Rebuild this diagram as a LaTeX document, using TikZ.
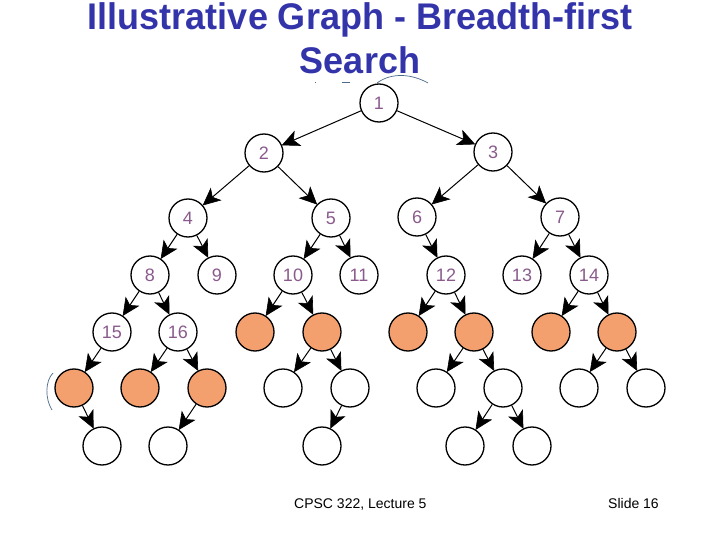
\documentclass[tikz,border=0pt]{standalone}
\usepackage{fontspec}
\setmainfont{Liberation Sans}
\usetikzlibrary{calc}
\definecolor{titleblue}{HTML}{3333AA}
\definecolor{numpurple}{HTML}{8A5A8C}
\definecolor{visited}{HTML}{F4A06E}
\definecolor{artifact}{HTML}{4A6A88}
\tikzset{
  vtx/.style={circle, draw=black, line width=1.3pt, minimum size=38pt, inner sep=0pt,
              font=\fontsize{18}{18}\selectfont, text=numpurple},
  done/.style={vtx, fill=visited},
  conn/.style={line width=1pt},
  headfill/.style={fill=black, draw=black, line width=0.6pt, line join=miter},
  mark line/.style={artifact, line width=0.7pt}
}
\begin{document}
\begin{tikzpicture}[x=1pt, y=-1pt]
\useasboundingbox (0,0) rectangle (720,540);
% title
\node[anchor=base, text=titleblue, font=\fontsize{36}{36}\selectfont\bfseries] (t1) at (360,30) {\scalebox{1}[1.03]{Illustrative Graph - Breadth-first}};
\node[anchor=base, text=titleblue, font=\fontsize{36}{36}\selectfont\bfseries] (t2) at (360,74) {\scalebox{1}[1.03]{Search}};
% footer
\node[anchor=base west, font=\fontsize{14}{14}\selectfont, inner sep=0pt] (f1) at (294,508) {CPSC 322, Lecture 5};
\node[anchor=base west, font=\fontsize{14}{14}\selectfont, inner sep=0pt] (f2) at (608,508) {Slide 16};
% artifacts
\draw[mark line] (377,83) .. controls (392,72) and (412,74) .. (428,83);
\draw[mark line] (315,82) -- (316,82);
\draw[mark line] (342,82) -- (350,82);
\draw[mark line] (53,373) .. controls (45,381) and (45,399) .. (52,410);
% labelled nodes
\node[vtx] (n1) at (379,103) {1};
\node[vtx] (n2) at (264,153) {2};
\node[vtx] (n3) at (493,152) {3};
\node[vtx] (n4) at (188,218) {4};
\node[vtx] (n5) at (331,218) {5};
\node[vtx] (n6) at (417,217) {6};
\node[vtx] (n7) at (560,217) {7};
\node[vtx] (n8) at (150,275) {8};
\node[vtx] (n9) at (217,275) {9};
\node[vtx] (n10) at (293,275) {10};
\node[vtx] (n11) at (359,275) {11};
\node[vtx] (n12) at (446,275) {12};
\node[vtx] (n13) at (522,275) {13};
\node[vtx] (n14) at (589,275) {14};
\node[vtx] (n15) at (112,332) {15};
\node[vtx] (n16) at (178,332) {16};
% visited (orange) nodes
\node[done] (oA) at (255,332) {};
\node[done] (oB) at (322,332) {};
\node[done] (oC) at (408,332) {};
\node[done] (oD) at (474,332) {};
\node[done] (oE) at (551,332) {};
\node[done] (oF) at (617,332) {};
\node[done] (oG) at (74,388) {};
\node[done] (oH) at (140,388) {};
\node[done] (oI) at (207,388) {};
% blank nodes
\node[vtx] (wA) at (283,388) {};
\node[vtx] (wB) at (350,388) {};
\node[vtx] (wC) at (436,388) {};
\node[vtx] (wD) at (503,388) {};
\node[vtx] (wE) at (579,388) {};
\node[vtx] (wF) at (646,388) {};
\node[vtx] (wG) at (102,446) {};
\node[vtx] (wH) at (168,446) {};
\node[vtx] (wI) at (322,446) {};
\node[vtx] (wJ) at (465,446) {};
\node[vtx] (wK) at (532,446) {};
% edges with kite-shaped heads
\foreach \a/\b in {n1/n2, n1/n3, n2/n4, n2/n5, n3/n6, n3/n7, n4/n8, n4/n9,
  n5/n10, n5/n11, n6/n12, n7/n13, n7/n14, n8/n15, n8/n16,
  n10/oA, n10/oB, n12/oC, n12/oD, n14/oE, n14/oF,
  n15/oG, n16/oH, n16/oI, oB/wA, oB/wB, oD/wC, oD/wD, oF/wE, oF/wF,
  oG/wG, oI/wH, wB/wI, wD/wJ, wD/wK}{
  \coordinate (tip) at ($(\b)!20pt!(\a)$);
  \coordinate (back) at ($(tip)!12pt!(\a)$);
  \draw[conn] (\a) -- (back);
  \filldraw[headfill] (tip) -- ($(tip)!18pt!25:(\a)$) -- (back) -- ($(tip)!18pt!-25:(\a)$) -- cycle;
}
\end{tikzpicture}
\end{document}
